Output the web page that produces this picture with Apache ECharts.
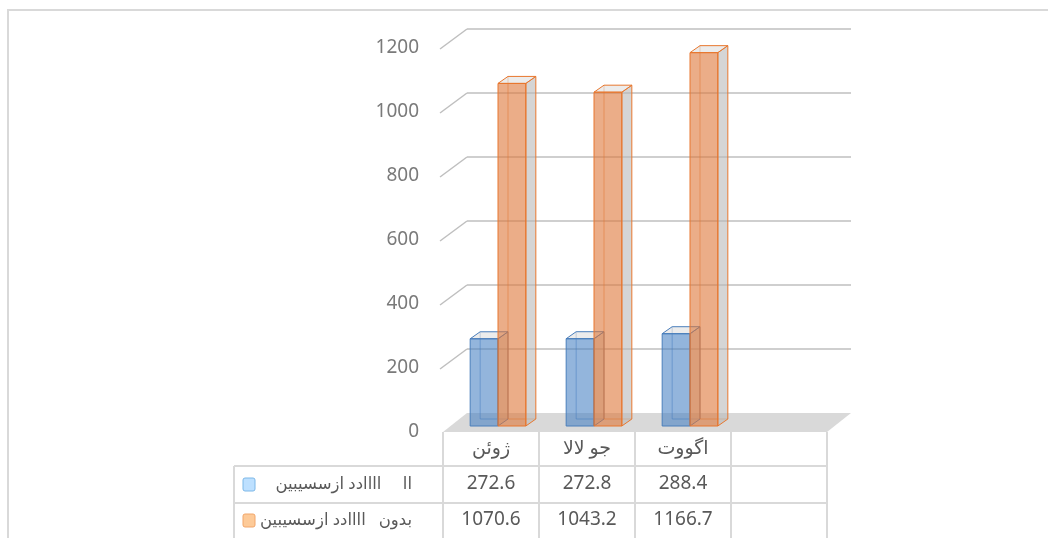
<!DOCTYPE html>
<html>
<head>
<meta charset="utf-8">
<script src="https://cdn.jsdelivr.net/npm/echarts@6/dist/echarts.min.js"></script>
<style>
  html, body { margin: 0; background: #fff; }
  #chart { width: 1048px; height: 538px; }
</style>
</head>
<body>
<div id="chart"></div>
<script>
// data
const categories = ['ژوئن', 'جو لالا', 'اگووت', '']
const seriesNames = ['اا     اااادد ازسسیبین', 'بدون   اااادد ازسسیبین']
const withValues = [272.6, 272.8, 288.4]
const withoutValues = [1070.6, 1043.2, 1166.7]
const yTicks = [0, 200, 400, 600, 800, 1000, 1200]

const FONT = "'Noto Sans', 'DejaVu Sans', sans-serif"
const WALL = [24, -19] // back wall offset
const BAR_SHIFT = [7, -6] // bars sit in the middle of the depth
const BAR_DEPTH = [10, -7]
const GRID = { left: 443, top: 48, width: 384, height: 384 }
const keyColors = [['#bde0ff', '#7db8e8'], ['#fdca98', '#f2a66a']]

// back wall lines + floor
function renderWall (params, api) {
  const cs = params.coordSys
  const v = api.value(1)
  const y = api.coord([0, v])[1]
  const x0 = cs.x
  const x1 = cs.x + cs.width
  if (v === 0) {
    return {
      type: 'polygon',
      shape: { points: [[x0, y], [x1, y], [x1 + WALL[0], y + WALL[1]], [x0 + WALL[0], y + WALL[1]]] },
      style: { fill: '#d9d9d9' }
    }
  }
  const st = { stroke: '#bfbfbf', lineWidth: 1.5 }
  return {
    type: 'group',
    children: [
      { type: 'line', shape: { x1: x0 - 3, y1: y + 1, x2: x0 + WALL[0], y2: y + WALL[1] }, style: st },
      { type: 'line', shape: { x1: x0 + WALL[0], y1: y + WALL[1], x2: x1 + WALL[0], y2: y + WALL[1] }, style: st }
    ]
  }
}

// 3d looking bar, side -1 = left of the category centre, 1 = right
function barRenderer (side, front, edge, sideFill) {
  return function (params, api) {
    const i = api.value(0)
    const v = api.value(1)
    const base = api.coord([i, 0])
    const top = api.coord([i, v])
    const w = api.size([1, 0])[0] * 0.29
    const x = base[0] + BAR_SHIFT[0] + (side < 0 ? -w : 0)
    const yb = base[1] + BAR_SHIFT[1]
    const yt = top[1] + BAR_SHIFT[1]
    const dx = BAR_DEPTH[0]
    const dy = BAR_DEPTH[1]
    const thin = { stroke: edge, lineWidth: 1, opacity: 0.55 }
    return {
      type: 'group',
      children: [
        { type: 'line', shape: { x1: x + dx, y1: yt + dy, x2: x + dx, y2: yb + dy }, style: thin },
        { type: 'line', shape: { x1: x + dx, y1: yb + dy, x2: x + w + dx, y2: yb + dy }, style: thin },
        {
          type: 'polygon',
          shape: { points: [[x + w, yt], [x + w + dx, yt + dy], [x + w + dx, yb + dy], [x + w, yb]] },
          style: { fill: sideFill, stroke: edge, lineWidth: 1 }
        },
        {
          type: 'polygon',
          shape: { points: [[x, yt], [x + w, yt], [x + w + dx, yt + dy], [x + dx, yt + dy]] },
          style: { fill: 'rgba(220,220,220,0.55)', stroke: edge, lineWidth: 1 }
        },
        {
          type: 'rect',
          shape: { x: x, y: yt, width: w, height: yb - yt },
          style: { fill: front, stroke: edge, lineWidth: 1 }
        }
      ]
    }
  }
}

function valueLabel (arr) {
  return function (value, index) {
    return arr[index] != null ? arr[index].toFixed(1) : ''
  }
}

function tableAxis (offset, arr) {
  return {
    type: 'category',
    gridIndex: 0,
    position: 'bottom',
    offset: offset,
    data: categories,
    axisLine: { show: false },
    axisTick: { show: false },
    axisLabel: { interval: 0, margin: 8, fontSize: 19, lineHeight: 20, color: '#595959', fontFamily: FONT, formatter: valueLabel(arr) }
  }
}

// table lines + row headers below the chart
const tableTop = GRID.top + GRID.height
const colW = GRID.width / categories.length
const rowLines = [466, 503]
const rowCenters = [484.5, 520.5]
const lineStyle = { stroke: '#d9d9d9', lineWidth: 2 }
const tableParts = []
for (let c = 0; c <= categories.length; c++) {
  const x = GRID.left + c * colW
  tableParts.push({ type: 'line', shape: { x1: x, y1: tableTop, x2: x, y2: 540 }, style: lineStyle })
}
tableParts.push({ type: 'line', shape: { x1: 234, y1: rowLines[0], x2: 234, y2: 540 }, style: lineStyle })
rowLines.forEach(y => {
  tableParts.push({ type: 'line', shape: { x1: 234, y1: y, x2: GRID.left + GRID.width, y2: y }, style: lineStyle })
})
seriesNames.forEach((name, k) => {
  tableParts.push({
    type: 'rect',
    shape: { x: 243, y: rowCenters[k] - 6.5, width: 12, height: 13, r: 2 },
    style: { fill: keyColors[k][0], stroke: keyColors[k][1], lineWidth: 1 }
  })
  tableParts.push({
    type: 'text',
    x: 412,
    y: rowCenters[k],
    style: { text: name, fill: '#595959', font: '16.5px ' + FONT, align: 'right', verticalAlign: 'middle' }
  })
})

const myChart = echarts.init(document.getElementById('chart'))
const option = {
  animation: false,
  backgroundColor: '#fff',
  grid: GRID,
  xAxis: [
    {
      type: 'category',
      data: categories,
      axisLine: { show: false },
      axisTick: { show: false },
      axisLabel: { interval: 0, margin: 7, fontSize: 19, lineHeight: 20, color: '#595959', fontFamily: FONT }
    },
    tableAxis(34, withValues),
    tableAxis(70, withoutValues)
  ],
  yAxis: {
    type: 'value',
    min: 0,
    max: 1200,
    interval: 200,
    axisLine: { show: false },
    axisTick: { show: false },
    splitLine: { show: false },
    axisLabel: { margin: 24, fontSize: 19, color: '#7a7a7a', fontFamily: FONT, formatter: v => String(v) }
  },
  graphic: [
    { type: 'rect', shape: { x: 8, y: 10, width: 1100, height: 600 }, style: { fill: 'none', stroke: '#d9d9d9', lineWidth: 2 }, z: -10 }
  ].concat(tableParts),
  series: [
    {
      type: 'custom',
      name: 'wall',
      silent: true,
      renderItem: renderWall,
      data: yTicks.map(v => [0, v]),
      z: 1
    },
    {
      type: 'custom',
      name: seriesNames[0],
      renderItem: barRenderer(-1, 'rgba(69,128,195,0.58)', '#4a7ebb', 'rgba(180,180,180,0.5)'),
      data: withValues.map((v, i) => [i, v]),
      z: 2
    },
    {
      type: 'custom',
      name: seriesNames[1],
      renderItem: barRenderer(1, 'rgba(222,118,56,0.6)', '#e8772e', 'rgba(185,185,185,0.6)'),
      data: withoutValues.map((v, i) => [i, v]),
      z: 3
    }
  ]
}
myChart.setOption(option, true)
</script>
</body>
</html>
